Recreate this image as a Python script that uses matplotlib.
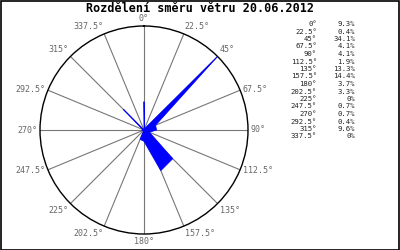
import numpy as np
import matplotlib
matplotlib.use("Agg")
import matplotlib.pyplot as plt
from matplotlib.patches import Rectangle

directions = [0, 22.5, 45, 67.5, 90, 112.5, 135, 157.5, 180, 202.5, 225,
              247.5, 270, 292.5, 315, 337.5]
percent = [9.3, 0.4, 34.1, 4.1, 4.1, 1.9, 13.3, 14.4, 3.7, 3.3, 0,
           0.7, 0.7, 0.4, 9.6, 0]
title = "Rozdělení směru větru 20.06.2012"

plt.rcParams['font.family'] = ['DejaVu Sans Mono']

fig = plt.figure(figsize=(4, 2.5), dpi=100)
fig.patch.set_facecolor('white')
fig.patches.append(Rectangle((0.0015, 0.002), 0.997, 0.996, transform=fig.transFigure,
                             fill=False, edgecolor='black', linewidth=1.2))

ax = fig.add_axes([0.1, 0.064, 0.52, 0.832], projection='polar')
ax.set_theta_zero_location('N')
ax.set_theta_direction(-1)

theta = np.deg2rad(directions + [directions[0]])
vals = percent + [percent[0]]
ax.fill(theta, vals, color='#0000ff', edgecolor='#0000ff', linewidth=0.6, zorder=3)

rmax = max(percent)
ax.set_ylim(0, rmax)
ax.set_yticks([])
ax.set_thetagrids(directions, labels=[''] * len(directions))
ax.grid(True, color='#777777', linewidth=0.8)
ax.set_axisbelow(True)
ax.spines['polar'].set_color('black')
ax.spines['polar'].set_linewidth(1.0)

for d in directions:
    t = np.deg2rad(d)
    s, c = np.sin(t), np.cos(t)
    ha = 'left' if s > 0.1 else ('right' if s < -0.1 else 'center')
    va = 'bottom' if c > 0.5 else ('top' if c < -0.5 else 'center')
    ax.annotate('%g°' % d, xy=(t, rmax), xytext=(2 * s, 2 * c),
                textcoords='offset points', ha=ha, va=va,
                fontsize=6, color='#666666', annotation_clip=False)

fig.text(0.5, 0.964, title, ha='center', va='center', fontsize=8.5,
         fontweight='bold', color='black')

y0 = 1 - 24 / 250
dy = 7.5 / 250
for i, (d, p) in enumerate(zip(directions, percent)):
    y = y0 - i * dy
    fig.text(317 / 400, y, '%g°' % d, ha='right', va='center', fontsize=5.2, color='#222222')
    fig.text(355 / 400, y, '%g%%' % p, ha='right', va='center', fontsize=5.2, color='#222222')

fig.savefig('out.png', dpi=100, facecolor='white')
